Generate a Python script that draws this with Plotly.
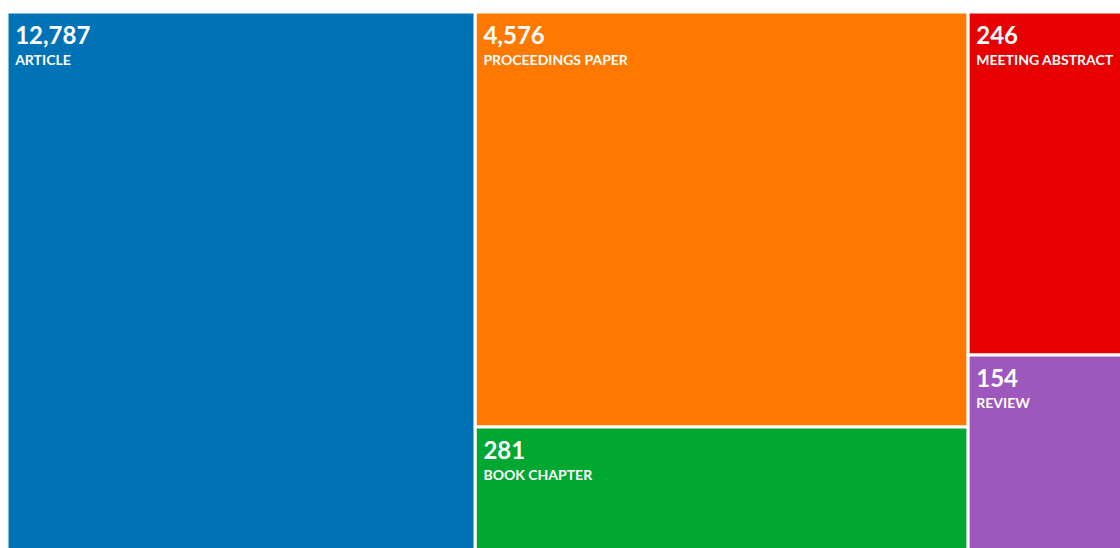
import plotly.graph_objects as go

# Document types and record counts
doc_types = ["ARTICLE", "PROCEEDINGS PAPER", "BOOK CHAPTER", "MEETING ABSTRACT", "REVIEW"]
record_counts = [12787, 4576, 281, 246, 154]
# tile area shares (%) as drawn in the reference (not proportional to counts)
tile_share = [42.0, 34.1, 10.1, 8.8, 5.0]
colors = ["#0073B7", "#FF7800", "#00A832", "#E60000", "#9E57BC"]

NB = "\u00a0"

ids = ["all", doc_types[0], "col2", doc_types[1], doc_types[2], "col3", doc_types[3], doc_types[4]]
labels = ["", doc_types[0], "", doc_types[1], doc_types[2], "", doc_types[3], doc_types[4]]
parents = ["", "all", "all", "col2", "col2", "all", "col3", "col3"]
values = [sum(tile_share), tile_share[0], tile_share[1] + tile_share[2], tile_share[1],
          tile_share[2], tile_share[3] + tile_share[4], tile_share[3], tile_share[4]]
marker_colors = ["white", colors[0], colors[1], colors[1], colors[2], colors[3], colors[3], colors[4]]


def tile_text(count, name):
    pad = "<span style='font-size:20px'>" + NB + "</span>"
    return ("<span style='font-size:8.5px'>" + NB + "</span><br>"
            + pad + "<b><span style='font-size:24px'>{:,}</span></b><br>".format(count)
            + pad + "<b><span style='font-size:14px'>{}</span></b>".format(name))


texts = ["", tile_text(record_counts[0], doc_types[0]), "",
         tile_text(record_counts[1], doc_types[1]), tile_text(record_counts[2], doc_types[2]), "",
         tile_text(record_counts[3], doc_types[3]), tile_text(record_counts[4], doc_types[4])]

fig = go.Figure(go.Treemap(
    ids=ids,
    labels=labels,
    parents=parents,
    values=values,
    branchvalues="total",
    sort=False,
    text=texts,
    texttemplate="%{text}",
    textposition="top left",
    textfont=dict(family="Lato", color="white", size=16),
    marker=dict(colors=marker_colors, line=dict(color="white", width=3),
                pad=dict(t=0, l=0, r=0, b=0)),
    tiling=dict(packing="slice-dice", pad=0),
    pathbar=dict(visible=False),
    hoverinfo="skip",
))

fig.update_layout(
    width=1122, height=550,
    margin=dict(l=6.5, t=11.5, r=0, b=0),
    paper_bgcolor="white",
    font=dict(family="Lato"),
)

fig.write_html(
    "out.html",
    config={"displayModeBar": False},
    post_script="document.body.style.margin='0';document.body.style.overflow='hidden';",
)
